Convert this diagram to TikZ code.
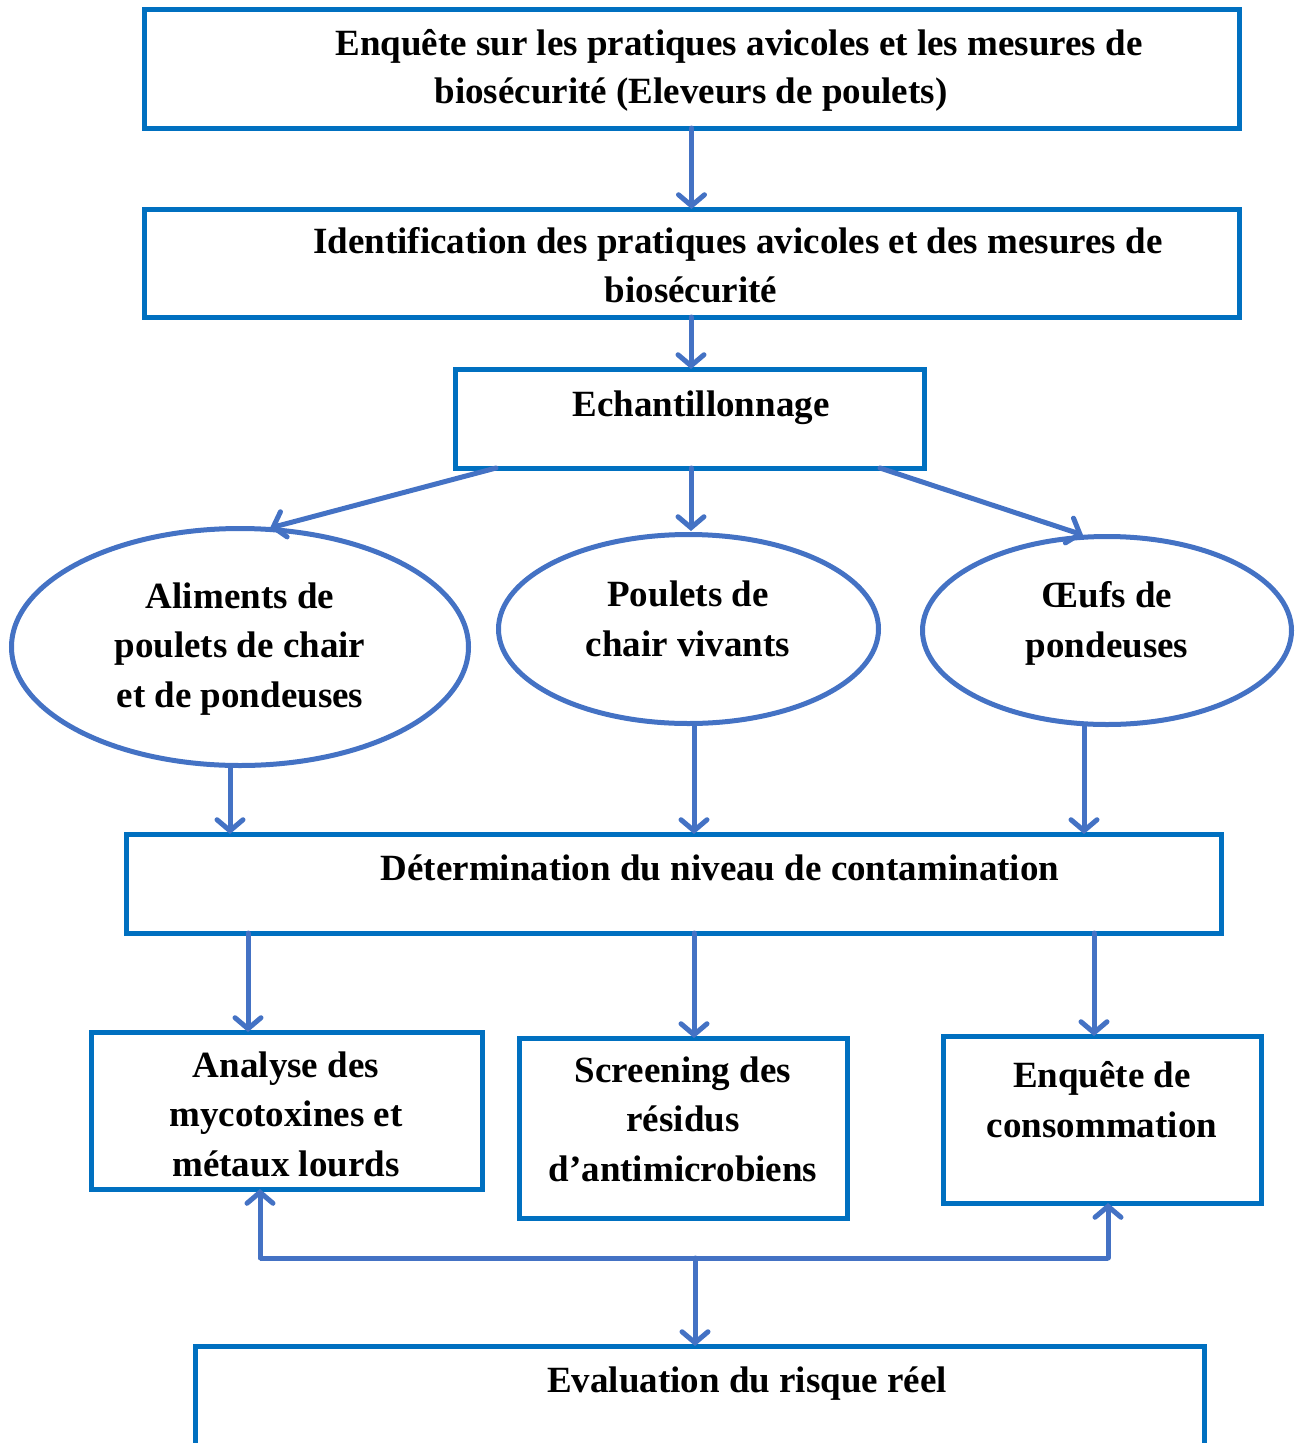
\documentclass[tikz,border=0pt]{standalone}
\usepackage{fontspec}
\setmainfont{Liberation Serif}
\usetikzlibrary{shapes.geometric,arrows.meta}
\definecolor{boxblue}{HTML}{0070C0}
\definecolor{arrblue}{HTML}{4472C4}
\tikzset{
  x=1pt, y=-1pt,
  boxnode/.style={draw=boxblue, line width=5pt, rectangle, inner sep=0pt, outer sep=0pt},
  ellnode/.style={draw=arrblue, line width=5pt, ellipse, inner sep=0pt, outer sep=0pt},
  txt/.style={font=\fontsize{37}{49.5}\selectfont\bfseries, align=center, anchor=base, inner sep=0pt},
  arr/.style={draw=arrblue, line width=5pt, line cap=round, -{Straight Barb[length=11pt,width=26pt,line cap=round]}},
  plain/.style={draw=arrblue, line width=5pt}
}
\begin{document}
\begin{tikzpicture}
\useasboundingbox (0,0) rectangle (1298,1443);
% boxes
\node[boxnode, minimum width=1095, minimum height=119] (b1) at (691.5,68.5) {};
\node[boxnode, minimum width=1095, minimum height=108] (b2) at (691.5,263) {};
\node[boxnode, minimum width=469, minimum height=99] (b3) at (689.5,418.5) {};
\node[ellnode, minimum width=457, minimum height=237] (e1) at (240,647) {};
\node[ellnode, minimum width=380, minimum height=189] (e2) at (688.5,629) {};
\node[ellnode, minimum width=369, minimum height=188] (e3) at (1107,630.5) {};
\node[boxnode, minimum width=1095, minimum height=99] (b4) at (673.5,883.5) {};
\node[boxnode, minimum width=391, minimum height=157] (b5) at (286.5,1110.5) {};
\node[boxnode, minimum width=328, minimum height=180] (b6) at (683,1128) {};
\node[boxnode, minimum width=318, minimum height=167] (b7) at (1102,1119.5) {};
\node[boxnode, minimum width=1009, minimum height=130] (b8) at (699.5,1411) {};
% texts (anchor base = baseline of last line)
\node[txt] (t1) at (739,55) {Enquête sur les pratiques avicoles et les mesures de};
\node[txt] (t1b) at (691,103) {biosécurité (Eleveurs de poulets)};
\node[txt] (t2) at (738,253) {Identification des pratiques avicoles et des mesures de};
\node[txt] (t2b) at (691,302) {biosécurité};
\node[txt] (t3) at (701,416) {Echantillonnage};
\node[txt] (te1) at (240,707) {Aliments de\\poulets de chair\\et de pondeuses};
\node[txt] (te2) at (688,656) {Poulets de\\chair vivants};
\node[txt] (te3) at (1107,657) {Œufs de\\pondeuses};
\node[txt] (t4) at (720,880) {Détermination du niveau de contamination};
\node[txt] (t5) at (286,1176) {Analyse des\\mycotoxines et\\métaux lourds};
\node[txt] (t6) at (683,1181) {Screening des\\résidus\\d’antimicrobiens};
\node[txt] (t7) at (1102,1137) {Enquête de\\consommation};
\node[txt] (t8) at (747,1392) {Evaluation du risque réel};
% arrows
\draw[arr] (b1.south) -- (b2.north);
\draw[arr] (b2.south -| 691,0) -- (b3.north -| 691,0);
\draw[arr] (b3.south -| 496,0) -- (270,528);
\draw[arr] (b3.south -| 691,0) -- (691,531);
\draw[arr] (b3.south -| 880,0) -- (1083,535);
\draw[arr] (e1.south -| 230,0) -- (b4.north -| 230,0);
\draw[arr] (e2.south -| 694,0) -- (b4.north -| 694,0);
\draw[arr] (e3.south -| 1084,0) -- (b4.north -| 1084,0);
\draw[arr] (b4.south -| 248,0) -- (b5.north -| 248,0);
\draw[arr] (b4.south -| 694,0) -- (b6.north -| 694,0);
\draw[arr] (b4.south -| 1094,0) -- (b7.north -| 1094,0);
\coordinate (jl) at (260,1258);
\coordinate (jr) at (1108,1258);
\coordinate (jm) at (695,1258);
\draw[plain] (jl) -- (jr);
\draw[arr] (jl) -- (b5.south -| jl);
\draw[arr] (jr) -- (b7.south -| jr);
\draw[arr] (jm) -- (b8.north -| jm);
\end{tikzpicture}
\end{document}
